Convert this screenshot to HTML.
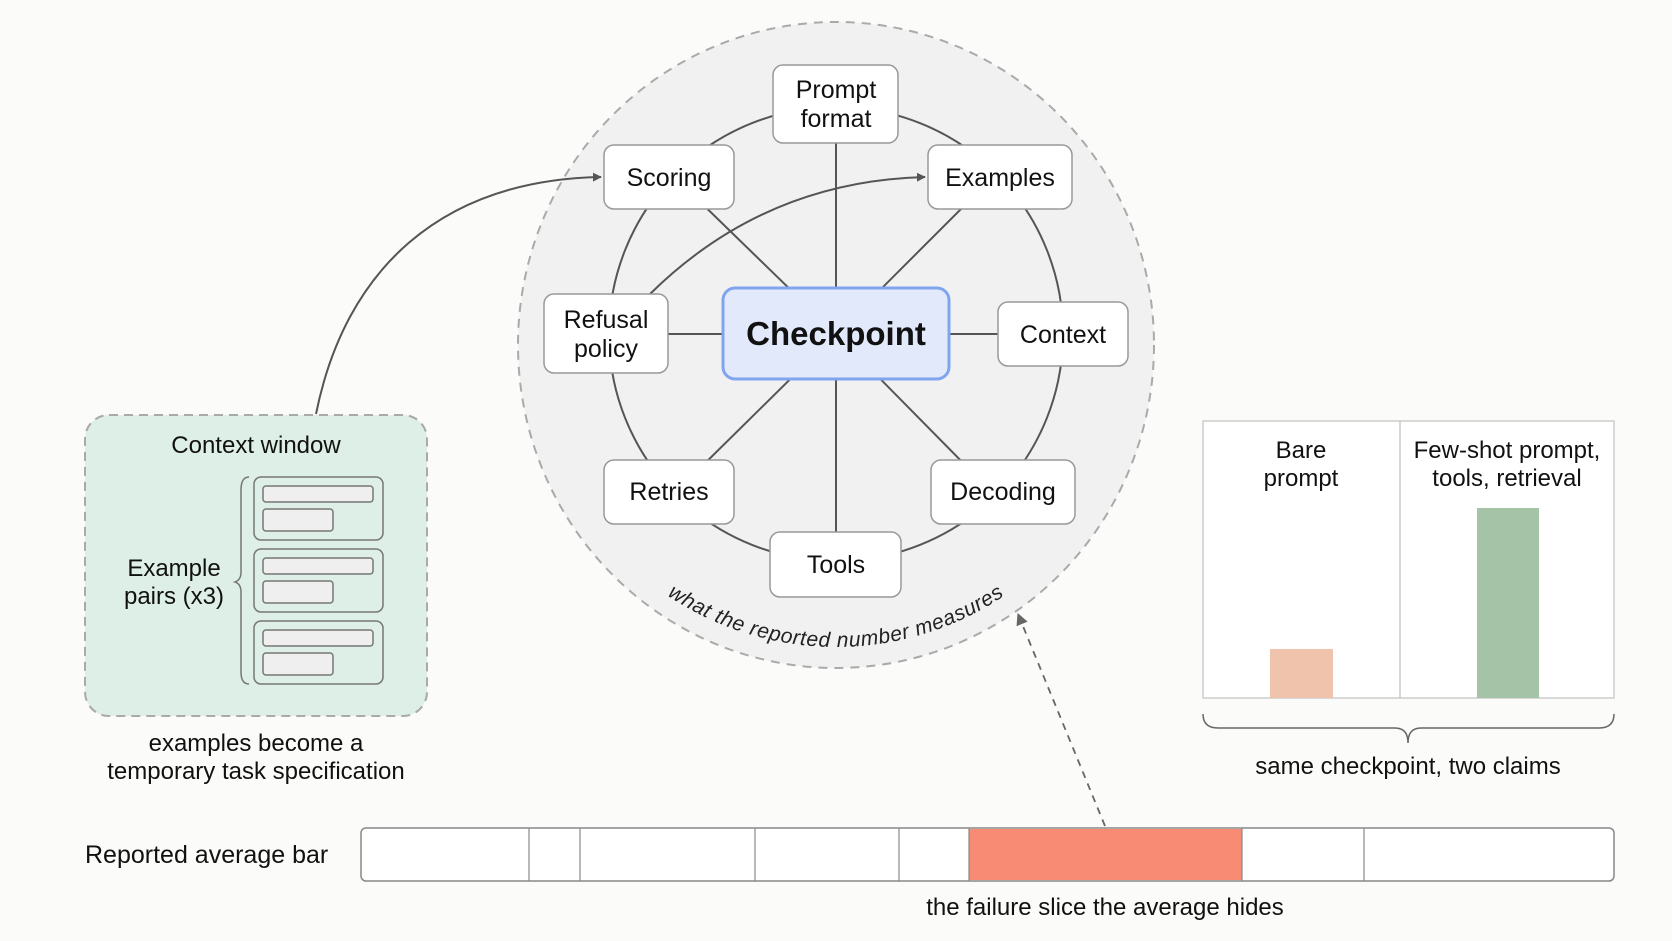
<!DOCTYPE html>
<html><head><meta charset="utf-8"><style>
html,body{margin:0;padding:0;background:#fbfbfa;}
svg{display:block;font-family:"Liberation Sans",sans-serif;}
</style></head><body>
<svg width="1672" height="941" viewBox="0 0 1672 941" xmlns="http://www.w3.org/2000/svg">
<defs>
<marker id="ah" viewBox="0 0 10 10" refX="9" refY="5" markerWidth="9" markerHeight="9" orient="auto" markerUnits="userSpaceOnUse"><path d="M0,0 L10,5 L0,10 z" fill="#555"/></marker>
<marker id="ah2" viewBox="0 0 10 10" refX="9" refY="5" markerWidth="12" markerHeight="12" orient="auto" markerUnits="userSpaceOnUse"><path d="M0,0 L10,5 L0,10 z" fill="#666"/></marker>
</defs>
<rect width="1672" height="941" fill="#fbfbfa"/>

<ellipse cx="836" cy="345" rx="318" ry="323" fill="#f1f1f1" stroke="#aaa" stroke-width="2" stroke-dasharray="9 7"/>
<circle cx="836" cy="334" r="227" fill="none" stroke="#555" stroke-width="2"/>
<g stroke="#555" stroke-width="2">
<line x1="836" y1="334" x2="836" y2="110"/>
<line x1="836" y1="334" x2="836" y2="560"/>
<line x1="600" y1="334" x2="1060" y2="334"/>
<line x1="836" y1="334" x2="690" y2="192"/>
<line x1="836" y1="334" x2="978" y2="192"/>
<line x1="836" y1="334" x2="690" y2="478"/>
<line x1="836" y1="334" x2="978" y2="478"/>
</g>
<path d="M650 294 C 720 225, 810 180, 925 177" fill="none" stroke="#555" stroke-width="2" marker-end="url(#ah)"/>

<g fill="#fff" stroke="#999" stroke-width="1.5">
<rect x="773" y="65" width="125" height="78" rx="10"/>
<rect x="604" y="145" width="130" height="64" rx="10"/>
<rect x="928" y="145" width="144" height="64" rx="10"/>
<rect x="544" y="294" width="124" height="79" rx="10"/>
<rect x="998" y="302" width="130" height="64" rx="10"/>
<rect x="604" y="460" width="130" height="64" rx="10"/>
<rect x="931" y="460" width="144" height="64" rx="10"/>
<rect x="770" y="532" width="131" height="65" rx="10"/>
</g>
<rect x="723" y="288" width="226" height="91" rx="12" fill="#e1e9fb" stroke="#80a5ee" stroke-width="3"/>
<g font-size="25" fill="#111" text-anchor="middle">
<text x="836" y="98">Prompt</text><text x="836" y="127">format</text>
<text x="669" y="186">Scoring</text>
<text x="1000" y="186">Examples</text>
<text x="606" y="328">Refusal</text><text x="606" y="357">policy</text>
<text x="1063" y="343">Context</text>
<text x="669" y="500">Retries</text>
<text x="1003" y="500">Decoding</text>
<text x="836" y="573">Tools</text>
<text x="836" y="345" font-size="33" font-weight="bold">Checkpoint</text>
</g>
<path id="arc" d="M 574.5 496 A 302 302 0 0 0 1097.5 496" fill="none"/>
<text font-size="21" font-style="italic" fill="#222" letter-spacing="0.6"><textPath href="#arc" startOffset="50%" text-anchor="middle">what the reported number measures</textPath></text>

<rect x="85" y="415" width="342" height="301" rx="24" fill="#ddefe6" stroke="#aaa" stroke-width="2" stroke-dasharray="9 6"/>
<text x="256" y="453" font-size="24" text-anchor="middle" fill="#111">Context window</text>
<text x="174" y="576" font-size="24" text-anchor="middle" fill="#111">Example</text>
<text x="174" y="604" font-size="24" text-anchor="middle" fill="#111">pairs (x3)</text>
<path d="M249 477 Q 241 477 241 490 L241 572 Q241 580 235 582 Q241 584 241 592 L241 672 Q241 684 249 684" fill="none" stroke="#777" stroke-width="1.5"/>
<g stroke="#777" stroke-width="1.5">
<rect x="254" y="477" width="129" height="63" rx="7" fill="none"/>
<rect x="254" y="549" width="129" height="63" rx="7" fill="none"/>
<rect x="254" y="621" width="129" height="63" rx="7" fill="none"/>
<g fill="#efefef">
<rect x="263" y="486" width="110" height="16" rx="3"/><rect x="263" y="509" width="70" height="22" rx="3"/>
<rect x="263" y="558" width="110" height="16" rx="3"/><rect x="263" y="581" width="70" height="22" rx="3"/>
<rect x="263" y="630" width="110" height="16" rx="3"/><rect x="263" y="653" width="70" height="22" rx="3"/>
</g></g>
<text x="256" y="751" font-size="24" text-anchor="middle" fill="#111">examples become a</text>
<text x="256" y="779" font-size="24" text-anchor="middle" fill="#111">temporary task specification</text>
<path d="M316 414 C 345 270, 440 180, 601 177" fill="none" stroke="#555" stroke-width="2" marker-end="url(#ah)"/>

<rect x="1203" y="421" width="411" height="277" fill="#fff" stroke="#ccc" stroke-width="1.5"/>
<line x1="1400" y1="421" x2="1400" y2="698" stroke="#ccc" stroke-width="1.5"/>
<rect x="1270" y="649" width="63" height="49" fill="#f0c3ad"/>
<rect x="1477" y="508" width="62" height="190" fill="#a5c3a7"/>
<g font-size="24" text-anchor="middle" fill="#111">
<text x="1301" y="458">Bare</text><text x="1301" y="486">prompt</text>
<text x="1507" y="458">Few-shot prompt,</text><text x="1507" y="486">tools, retrieval</text>
<text x="1408" y="774">same checkpoint, two claims</text>
</g>
<path d="M1203 714 Q1203 728 1218 728 L1395 728 Q1408 728 1408 743 Q1408 728 1421 728 L1599 728 Q1614 728 1614 714" fill="none" stroke="#666" stroke-width="1.5"/>

<text x="85" y="863" font-size="25" fill="#111">Reported average bar</text>
<rect x="361" y="828" width="1253" height="53" rx="5" fill="#fff" stroke="#888" stroke-width="1.5"/>
<rect x="969" y="829" width="273" height="51" fill="#f78b74"/>
<g stroke="#888" stroke-width="1.2">
<line x1="529" y1="828" x2="529" y2="881"/><line x1="580" y1="828" x2="580" y2="881"/>
<line x1="755" y1="828" x2="755" y2="881"/><line x1="899" y1="828" x2="899" y2="881"/>
<line x1="969" y1="828" x2="969" y2="881"/><line x1="1242" y1="828" x2="1242" y2="881"/>
<line x1="1364" y1="828" x2="1364" y2="881"/>
</g>
<text x="1105" y="915" font-size="24" text-anchor="middle" fill="#111">the failure slice the average hides</text>
<path d="M1105 826 L1018 614" fill="none" stroke="#666" stroke-width="1.8" stroke-dasharray="7 6" marker-end="url(#ah2)"/>
</svg>
</body></html>
